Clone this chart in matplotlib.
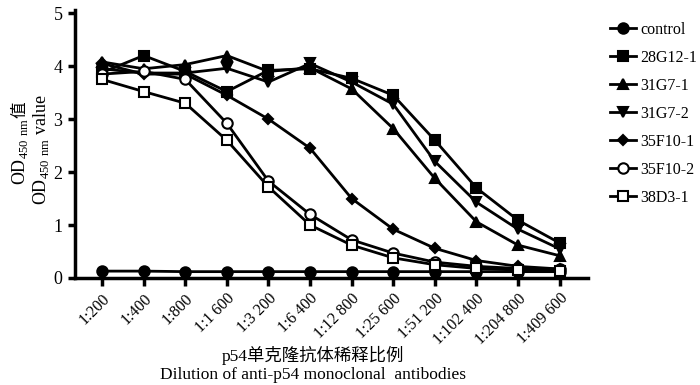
import matplotlib
matplotlib.use("Agg")
import matplotlib.pyplot as plt
import numpy as np

plt.rcParams['font.family'] = ['Liberation Serif', 'Noto Sans CJK SC']
plt.rcParams['mathtext.fontset'] = 'custom'
plt.rcParams['mathtext.rm'] = 'Liberation Serif'

dilutions = ["1:200", "1:400", "1:800", "1:1 600", "1:3 200", "1:6 400", "1:12 800",
             "1:25 600", "1:51 200", "1:102 400", "1:204 800", "1:409 600"]

control  = [0.13, 0.13, 0.12, 0.12, 0.12, 0.12, 0.12, 0.12, 0.12, 0.12, 0.12, 0.12]
g28G12_1 = [3.88, 4.20, 3.90, 3.52, 3.92, 3.95, 3.77, 3.45, 2.60, 1.70, 1.09, 0.66]
g31G7_1  = [4.08, 3.95, 4.03, 4.20, 3.90, 3.97, 3.57, 2.82, 1.88, 1.06, 0.62, 0.42]
g31G7_2  = [3.95, 3.87, 3.87, 3.96, 3.70, 4.05, 3.70, 3.28, 2.20, 1.43, 0.92, 0.55]
g35F10_1 = [4.05, 3.85, 3.85, 3.45, 3.00, 2.45, 1.50, 0.92, 0.56, 0.33, 0.22, 0.17]
g35F10_2 = [3.85, 3.90, 3.75, 2.92, 1.83, 1.20, 0.72, 0.47, 0.30, 0.22, 0.18, 0.17]
g38D3_1  = [3.75, 3.52, 3.30, 2.60, 1.72, 1.00, 0.62, 0.38, 0.25, 0.18, 0.15, 0.13]

series = [
    ("control", control, 'o', 'k'),
    ("28G12-1", g28G12_1, 's', 'k'),
    ("31G7-1", g31G7_1, '^', 'k'),
    ("31G7-2", g31G7_2, 'v', 'k'),
    ("35F10-1", g35F10_1, 'D', 'k'),
    ("35F10-2", g35F10_2, 'o', 'white'),
    ("38D3-1", g38D3_1, 's', 'white'),
]

fig = plt.figure(figsize=(7, 3.85), dpi=100)
ax = fig.add_axes([75/700, 1 - 278/385, (588-75)/700, (278-10)/385])

x = np.arange(len(dilutions))
for name, vals, m, fc in series:
    ms = 5 if m == 'D' else 7.5
    ax.plot(x, vals, color='k', lw=2, marker=m, markersize=ms,
            markerfacecolor=fc, markeredgecolor='k', markeredgewidth=1.5, label=name)

ax.set_xlim(-0.65, 11.68)
ax.set_ylim(0, 5.06)
ax.set_yticks([0, 1, 2, 3, 4, 5])
ax.set_xticks(x)
ax.set_xticklabels(dilutions, rotation=45, ha='right', rotation_mode='anchor', fontsize=11.5)
ax.tick_params(axis='y', labelsize=13, width=2.5, length=5, direction='out', pad=4)
ax.tick_params(axis='x', width=2.5, length=6, direction='out', pad=3)
for s in ['top', 'right']:
    ax.spines[s].set_visible(False)
for s in ['left', 'bottom']:
    ax.spines[s].set_linewidth(2.5)

# y-axis label, two lines (rotated)
t1 = fig.text(20/700, 1 - 185/385, r"OD$_{450\ \mathrm{nm}}$", rotation=90, ha='center', va='bottom', fontsize=13)
fig.canvas.draw()
bb = t1.get_window_extent(renderer=fig.canvas.get_renderer())
fig.text(20/700, (bb.y1) / fig.bbox.height, "值", rotation=90, ha='center', va='bottom',
         fontsize=12, family=['Noto Sans CJK SC'])
fig.text(41/700, 1 - 150/385, r"OD$_{450\ \mathrm{nm}}$ value", rotation=90, ha='center', va='center', fontsize=13)

fig.text(313/700, 1 - 355/385, "p54单克隆抗体稀释比例", ha='center', va='center', fontsize=12.5)
fig.text(313/700, 1 - 375/385, "Dilution of anti-p54 monoclonal  antibodies", ha='center', va='center', fontsize=12.5)

leg = ax.legend(loc='upper left', bbox_to_anchor=(610/700, 1 - 22/385), bbox_transform=fig.transFigure,
                frameon=False, fontsize=11.5, handlelength=1.6, labelspacing=0.75, handletextpad=0.3,
                borderaxespad=0, borderpad=0)

fig.savefig("out.png", dpi=100)
